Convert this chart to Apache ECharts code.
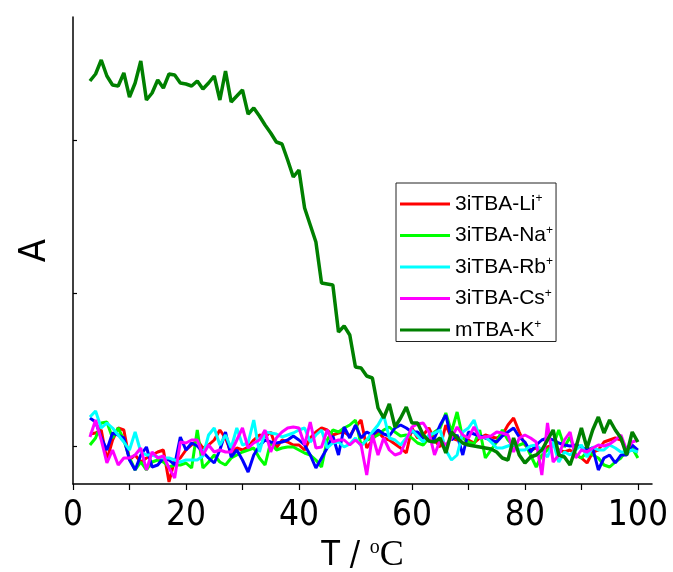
<!DOCTYPE html>
<html>
<head>
<meta charset="utf-8">
<script src="https://cdn.jsdelivr.net/npm/echarts@6/dist/echarts.min.js"></script>
<style>
  html, body { margin: 0; padding: 0; background: #fff; }
  #chart { width: 673px; height: 572px; }
</style>
</head>
<body>
<div id="chart"></div>
<script>
// temperature (°C), one reading per degree
const temps = [3,4,5,6,7,8,9,10,11,12,13,14,15,16,17,18,19,20,21,22,23,24,25,26,27,28,29,30,31,32,33,34,35,36,37,38,39,40,41,42,43,44,45,46,47,48,49,50,51,52,53,54,55,56,57,58,59,60,61,62,63,64,65,66,67,68,69,70,71,72,73,74,75,76,77,78,79,80,81,82,83,84,85,86,87,88,89,90,91,92,93,94,95,96,97,98,99,100]

// absorbance, arbitrary units
const liA = [12,13,16,-14,6,18,16,-14,-9,-16,-12,-9,-6,-4,-36,-14,-12,-4,1,6,-2,1,6,16,8,-7,-2,-4,-1,6,11,9,14,-2,6,4,1,1,-4,8,14,18,16,11,13,14,10,19,26,-2,6,14,8,6,2,-2,-7,18,8,11,18,6,-1,21,8,6,10,6,3,8,11,9,8,11,21,28,14,1,-4,-2,-4,-1,1,-4,-6,-4,-9,-12,-17,-6,-4,4,6,8,6,-4,-4,-6]
const naA = [1,8,23,24,8,18,6,-12,-24,-16,-24,-16,-14,-16,-21,-19,-19,-17,-22,16,-22,-16,-9,-16,-19,-12,-9,-6,-4,-2,-12,-19,4,-4,-2,-1,-1,-4,-7,-9,-14,-21,6,16,14,18,21,26,1,6,8,11,16,19,14,10,11,8,3,1,8,14,18,33,14,34,8,4,2,16,-12,-4,4,16,6,0,1,3,-9,-21,-9,-4,1,16,-1,9,-9,-12,-6,-9,-12,-19,-21,-16,-12,-4,-2,-12]
const blueA = [28,24,8,-4,13,11,8,-14,-24,-9,-1,-21,-19,-12,-14,-19,9,-4,3,0,-6,-12,-17,-4,14,-11,-4,-14,-26,-9,0,6,4,3,4,6,10,6,1,-9,-22,-12,-2,10,-9,19,8,21,8,14,11,16,12,10,18,21,18,14,14,8,6,8,21,31,6,11,-9,14,12,10,8,6,4,10,14,18,9,4,-6,1,6,8,6,3,1,0,1,-1,-4,-2,-24,-12,-9,-17,-9,-9,1,-4]
const rbA = [29,35,18,23,18,11,4,-4,14,-6,-9,-9,-11,-12,-12,-14,-16,-14,-14,-14,-10,11,18,1,11,-2,18,1,3,26,-6,14,13,12,9,11,13,16,18,4,11,16,-2,3,4,-1,2,8,0,6,14,21,31,8,6,1,8,16,10,4,11,13,16,-4,-14,-9,14,18,26,8,9,4,-2,-2,0,2,-4,-4,0,1,-4,-11,4,-16,-6,-9,-4,1,-11,-1,-4,-4,1,-2,-6,-6,-4,-6]
const csA = [9,26,6,-17,-4,-19,-12,-12,-9,-2,-24,-6,-12,-10,-22,-32,4,3,6,6,-9,1,-6,-4,-6,-6,6,18,-2,3,6,16,-6,8,14,18,19,18,1,24,-2,-1,16,4,6,6,1,6,1,-29,11,-9,8,-4,-9,-7,6,19,22,23,14,-9,6,1,8,19,11,8,19,8,9,10,14,13,11,-6,8,11,8,4,-29,23,-16,-9,6,14,-12,-4,-6,-2,1,0,2,6,11,-4,4,6]
const kA = [365,372,386,370,361,360,373,349,363,385,346,353,366,358,372,371,363,362,360,365,357,363,370,346,375,344,350,356,332,338,330,321,313,304,302,286,269,276,238,221,204,163,162,161,114,120,111,79,78,70,68,38,28,42,19,28,39,23,23,11,5,4,8,-7,14,8,3,1,0,-1,-2,-3,-6,-12,-14,8,-9,-17,-11,-9,-4,6,16,-9,-11,-19,-2,18,-2,16,29,13,26,16,8,-9,14,4]

const xTicks = [0,10,20,30,40,50,60,70,80,90,100]
const xLabels = [0,20,40,60,80,100]
const yTicks = [0,153,306]

const legendNames = ['3iTBA-Li+', '3iTBA-Na+', '3iTBA-Rb+', '3iTBA-Cs+', 'mTBA-K+']

const pairs = arr => temps.map((t, i) => [t, arr[i]])

const chart = echarts.init(document.getElementById('chart'))

const mkLine = (name, arr, color, width) => ({
  name: name,
  type: 'line',
  data: pairs(arr),
  symbol: 'none',
  lineStyle: { color: color, width: width },
  itemStyle: { color: color },
  animation: false
})

const tickFont = "'Liberation Sans Narrow', 'Arial Narrow', 'DejaVu Sans Condensed', 'Liberation Sans', sans-serif"

const option = {
  backgroundColor: '#fff',
  // keep the plot box where it is even though labels run to the edge
  grid: { left: 73, right: 21, top: 17, bottom: 88, containLabel: false, outerBoundsMode: 'none' },
  legend: {
    data: legendNames,
    orient: 'vertical',
    left: 396,
    top: 183,
    padding: [10, 3, 1, 4],
    itemWidth: 50,
    itemHeight: 3,
    itemGap: 10,
    icon: 'rect',
    borderColor: '#222',
    borderWidth: 1,
    formatter: name => '{n|' + name.slice(0, -1) + '}{s|+}',
    textStyle: {
      rich: {
        n: { fontSize: 21, fontFamily: 'Liberation Sans', color: '#000', lineHeight: 21 },
        s: { fontSize: 12, fontFamily: 'Liberation Sans', color: '#000', padding: [0, 0, 10, 0] }
      }
    }
  },
  xAxis: {
    type: 'value',
    min: 0,
    max: 102.5,
    name: '{t|T / }{o|o}{c|C}',
    nameLocation: 'middle',
    nameGap: 52,
    nameTextStyle: {
      rich: {
        t: { fontSize: 34, fontFamily: tickFont, color: '#000' },
        o: { fontSize: 20, fontFamily: 'Liberation Serif', color: '#000', padding: [0, 0, 16, 0] },
        c: { fontSize: 36, fontFamily: 'Liberation Serif', color: '#000' }
      }
    },
    axisLine: { onZero: false, lineStyle: { color: '#000', width: 1.5 } },
    axisTick: { customValues: xTicks, length: 6, lineStyle: { color: '#000', width: 1.2 } },
    axisLabel: {
      customValues: xLabels,
      margin: 14,
      fontSize: 35,
      fontFamily: tickFont,
      color: '#000'
    },
    splitLine: { show: false }
  },
  yAxis: {
    type: 'value',
    min: -38,
    max: 429,
    name: 'A',
    nameLocation: 'middle',
    nameGap: 19,
    nameTextStyle: { fontSize: 38, fontFamily: tickFont, color: '#000' },
    axisLine: { lineStyle: { color: '#000', width: 1.5 } },
    axisTick: { customValues: yTicks, inside: true, length: 4, lineStyle: { color: '#000', width: 1.2 } },
    axisLabel: { show: false },
    splitLine: { show: false }
  },
  series: [
    mkLine('3iTBA-Li+', liA, '#ff0000', 3),
    mkLine('3iTBA-Na+', naA, '#00ff00', 3),
    mkLine('3iTBA-B', blueA, '#0000ff', 3),
    mkLine('3iTBA-Rb+', rbA, '#00ffff', 3),
    mkLine('3iTBA-Cs+', csA, '#ff00ff', 3),
    mkLine('mTBA-K+', kA, '#008000', 3.5)
  ]
}

chart.setOption(option)
</script>
</body>
</html>
